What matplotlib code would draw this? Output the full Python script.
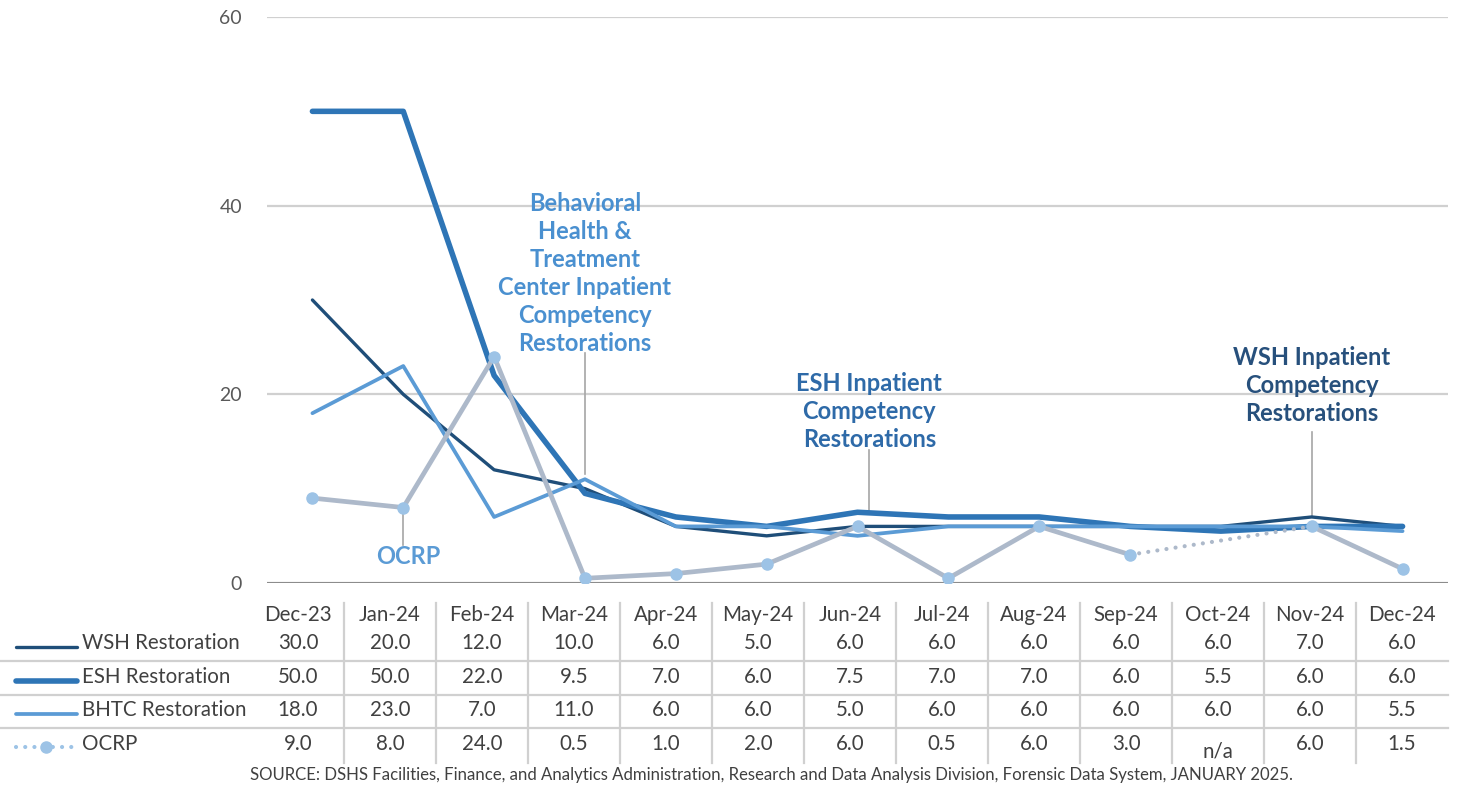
import numpy as np
import matplotlib.pyplot as plt

plt.rcParams['font.family'] = ['Lato', 'DejaVu Sans']

# DATA
months = ['Dec-23', 'Jan-24', 'Feb-24', 'Mar-24', 'Apr-24', 'May-24', 'Jun-24',
          'Jul-24', 'Aug-24', 'Sep-24', 'Oct-24', 'Nov-24', 'Dec-24']
wsh = [30.0, 20.0, 12.0, 10.0, 6.0, 5.0, 6.0, 6.0, 6.0, 6.0, 6.0, 7.0, 6.0]
esh = [50.0, 50.0, 22.0, 9.5, 7.0, 6.0, 7.5, 7.0, 7.0, 6.0, 5.5, 6.0, 6.0]
bhtc = [18.0, 23.0, 7.0, 11.0, 6.0, 6.0, 5.0, 6.0, 6.0, 6.0, 6.0, 6.0, 5.5]
ocrp = [9.0, 8.0, 24.0, 0.5, 1.0, 2.0, 6.0, 0.5, 6.0, 3.0, np.nan, 6.0, 1.5]
series_names = ['WSH Restoration', 'ESH Restoration', 'BHTC Restoration', 'OCRP']
source = ('SOURCE: DSHS Facilities, Finance, and Analytics Administration, Research and Data '
          'Analysis Division, Forensic Data System, JANUARY 2025.')

# STYLES
c_wsh = '#1f4e79'
c_esh = '#2e75b6'
c_bhtc = '#5b9bd5'
c_ocrp = '#adb9ca'
c_mark = '#9dc3e6'
c_grid = '#d0d0d0'
c_txt = '#404040'

W, H = 1459, 788
fig = plt.figure(figsize=(W / 100, H / 100), dpi=100)

def px_axes(x0, y0, x1, y1):
    return fig.add_axes([x0 / W, 1 - y1 / H, (x1 - x0) / W, (y1 - y0) / H])

# CHART
ax = px_axes(267, 17, 1448, 583)
x = np.arange(len(months))
ax.set_xlim(-0.5, len(months) - 0.5)
ax.set_ylim(0, 60)
ax.set_yticks([0, 20, 40, 60])
ax.yaxis.grid(True, color=c_grid, lw=1.6)
ax.set_axisbelow(True)
for s in ax.spines.values():
    s.set_visible(False)
ax.axhline(0, color='#8c8c8c', lw=2.2, zorder=1)
ax.tick_params(axis='y', length=0, pad=18, labelsize=14, labelcolor='#595959')
ax.set_xticks([])

kw = dict(solid_capstyle='round', solid_joinstyle='round')
ax.plot(x, wsh, color=c_wsh, lw=2.4, zorder=3, **kw)
ax.plot(x, esh, color=c_esh, lw=4.0, zorder=4, **kw)
ax.plot(x, bhtc, color=c_bhtc, lw=2.7, zorder=5, **kw)

# OCRP with a dotted bridge over the n/a month
ocrp_arr = np.array(ocrp)
ok = ~np.isnan(ocrp_arr)
gap = np.where(~ok)[0]
ax.plot(x[:gap[0]], ocrp_arr[:gap[0]], color=c_ocrp, lw=3.4, zorder=6, **kw)
ax.plot(x[gap[0] + 1:], ocrp_arr[gap[0] + 1:], color=c_ocrp, lw=3.4, zorder=6, **kw)
ax.plot([gap[0] - 1, gap[0] + 1], [ocrp_arr[gap[0] - 1], ocrp_arr[gap[0] + 1]],
        color=c_ocrp, lw=3.0, ls=(0, (0.01, 2.2)), dash_capstyle='round', zorder=6)
ax.plot(x[ok], ocrp_arr[ok], ls='none', marker='o', ms=8, mfc=c_mark, mec=c_mark, zorder=7)

# callouts
lead = dict(color='#a6a6a6', lw=1.2, zorder=2)
tkw = dict(ha='center', va='center', fontweight='bold', fontsize=17, linespacing=1.26)
ax.text(3.0, 32.8, 'Behavioral\nHealth &\nTreatment\nCenter Inpatient\nCompetency\nRestorations',
        color='#4a90d0', **tkw)
ax.plot([3.0, 3.0], [24.4, 11.6], **lead)
ax.text(1.06, 2.8, 'OCRP', color='#5b9bd5', **tkw)
ax.plot([1.0, 1.0], [8.0, 4.0], **lead)
ax.text(6.13, 18.2, 'ESH Inpatient\nCompetency\nRestorations', color='#2e6aa8', **tkw)
ax.plot([6.13, 6.13], [14.1, 7.6], **lead)
ax.text(11.0, 20.9, 'WSH Inpatient\nCompetency\nRestorations', color='#27507c', **tkw)
ax.plot([11.0, 11.0], [16.0, 7.0], **lead)

# DATA TABLE
tab = fig.add_axes([0, 0, 1, 1])
tab.set_xlim(0, W)
tab.set_ylim(H, 0)
tab.axis('off')
col0, colw = 252, 92.0
header_y, row_y = 615, [643, 677, 710, 744]
for xs in range(1, len(months)):
    tab.plot([col0 + xs * colw] * 2, [603, 763], color=c_grid, lw=1.6)
for yy in [661, 695, 728]:
    tab.plot([0, col0 + len(months) * colw], [yy, yy], color=c_grid, lw=1.6)

fs = 14.8
for i, m in enumerate(months):
    cx = col0 + (i + 0.5) * colw
    tab.text(cx, header_y, m, ha='center', va='center', fontsize=fs, color=c_txt)
    for r, vals in enumerate([wsh, esh, bhtc, ocrp]):
        v = vals[i]
        if np.isnan(v):
            tab.text(cx, row_y[r] + 7, 'n/a', ha='center', va='center', fontsize=fs, color=c_txt)
        else:
            tab.text(cx, row_y[r], f'{v:.1f}', ha='center', va='center', fontsize=fs, color=c_txt)

# legend keys
leg_styles = [(c_wsh, 2.4), (c_esh, 4.0), (c_bhtc, 2.7)]
for r, (col, lw) in enumerate(leg_styles):
    tab.plot([16, 77], [row_y[r] + 4, row_y[r] + 4], color=col, lw=lw, solid_capstyle='round')
tab.plot([16, 77], [row_y[3] + 3, row_y[3] + 3], color=c_mark, lw=3.0, ls=(0, (0.01, 2.2)),
         dash_capstyle='round')
tab.plot([46], [row_y[3] + 3], marker='o', ms=8, mfc=c_mark, mec=c_mark, ls='none')
for r, name in enumerate(series_names):
    tab.text(82, row_y[r], name, ha='left', va='center', fontsize=fs, color=c_txt)

tab.text(771, 775, source, ha='center', va='center', fontsize=12.1, color=c_txt)

fig.savefig('out.png', dpi=100)
